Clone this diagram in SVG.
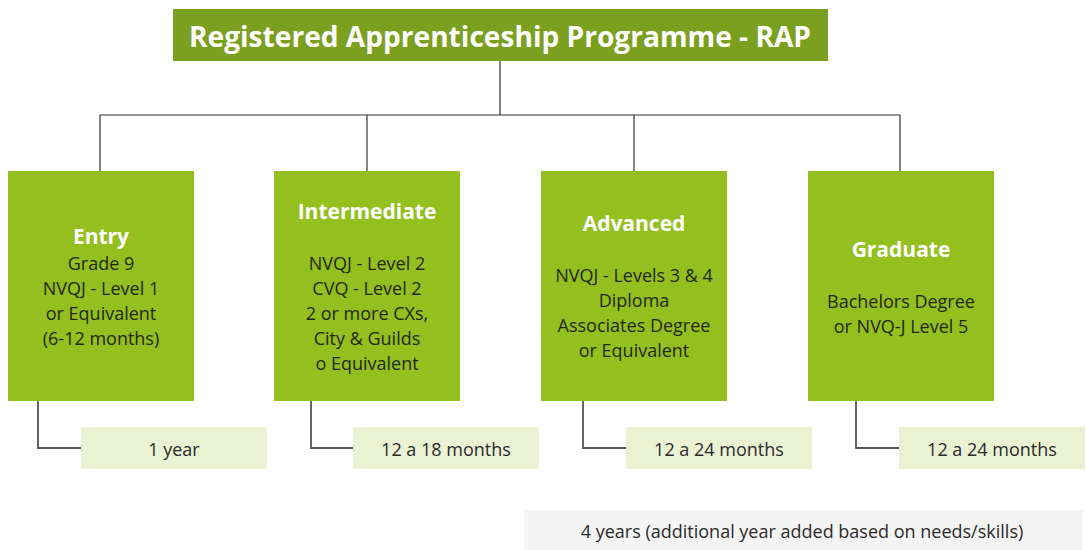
<svg xmlns="http://www.w3.org/2000/svg" width="1087" height="550" viewBox="0 0 1087 550">
<style>
.title{fill:#7b9f1e}
.box{fill:#93bf1f}
.dur{fill:#ebf2d4}
.note{fill:#f4f4f4}
.tt{font-family:"Open Sans","Liberation Sans",sans-serif;font-weight:bold;font-size:29px;fill:#fff;text-anchor:middle}
.hd{font-family:"Open Sans","Liberation Sans",sans-serif;font-weight:bold;font-size:21px;fill:#fff;text-anchor:middle}
.bd{font-family:"Open Sans","Liberation Sans",sans-serif;font-size:18px;fill:#22290f;text-anchor:middle}
.dt{font-family:"Open Sans","Liberation Sans",sans-serif;font-size:18px;fill:#2a2a2a;text-anchor:middle}
.ln{fill:none;stroke:#333;stroke-width:1.2}
.ln2{fill:none;stroke:#555;stroke-width:1.8}
</style>
<rect width="1087" height="550" fill="#fff"/>
<g id="connectors">
<path class="ln" d="M500 61V115M100 115H900M100 115V171M367 115V171M634 115V171M900 115V171"/>
<path class="ln2" d="M38 401V448H81M311 401V448H353M583 401V448H626M856 401V448H899"/>
</g>
<g id="title">
<rect class="title" x="173" y="9" width="655" height="52"/>
<text class="tt" x="500" y="47" textLength="622" lengthAdjust="spacingAndGlyphs">Registered Apprenticeship Programme - RAP</text>
</g>
<g id="entry">
<rect class="box" x="8" y="171" width="186" height="230"/>
<text class="hd" x="101" y="244">Entry</text>
<text class="bd" x="101" y="270">Grade 9</text>
<text class="bd" x="101" y="295">NVQJ - Level 1</text>
<text class="bd" x="101" y="320">or Equivalent</text>
<text class="bd" x="101" y="345">(6-12 months)</text>
</g>
<g id="intermediate">
<rect class="box" x="274" y="171" width="186" height="230"/>
<text class="hd" x="367" y="219">Intermediate</text>
<text class="bd" x="367" y="270">NVQJ - Level 2</text>
<text class="bd" x="367" y="295">CVQ - Level 2</text>
<text class="bd" x="367" y="320">2 or more CXs,</text>
<text class="bd" x="367" y="345">City &amp; Guilds</text>
<text class="bd" x="367" y="370">o Equivalent</text>
</g>
<g id="advanced">
<rect class="box" x="541" y="171" width="186" height="230"/>
<text class="hd" x="634" y="231">Advanced</text>
<text class="bd" x="634" y="282">NVQJ - Levels 3 &amp; 4</text>
<text class="bd" x="634" y="307">Diploma</text>
<text class="bd" x="634" y="332">Associates Degree</text>
<text class="bd" x="634" y="357">or Equivalent</text>
</g>
<g id="graduate">
<rect class="box" x="808" y="171" width="186" height="230"/>
<text class="hd" x="901" y="257">Graduate</text>
<text class="bd" x="901" y="308">Bachelors Degree</text>
<text class="bd" x="901" y="333">or NVQ-J Level 5</text>
</g>
<g id="dur-entry">
<rect class="dur" x="81" y="427" width="186" height="42"/>
<text class="dt" x="174" y="456">1 year</text>
</g>
<g id="dur-intermediate">
<rect class="dur" x="353" y="427" width="186" height="42"/>
<text class="dt" x="446" y="456">12 a 18 months</text>
</g>
<g id="dur-advanced">
<rect class="dur" x="626" y="427" width="186" height="42"/>
<text class="dt" x="719" y="456">12 a 24 months</text>
</g>
<g id="dur-graduate">
<rect class="dur" x="899" y="427" width="186" height="42"/>
<text class="dt" x="992" y="456">12 a 24 months</text>
</g>
<g id="total">
<rect class="note" x="524" y="510" width="559" height="40"/>
<text class="dt" x="802" y="538">4 years (additional year added based on needs/skills)</text>
</g>
</svg>
